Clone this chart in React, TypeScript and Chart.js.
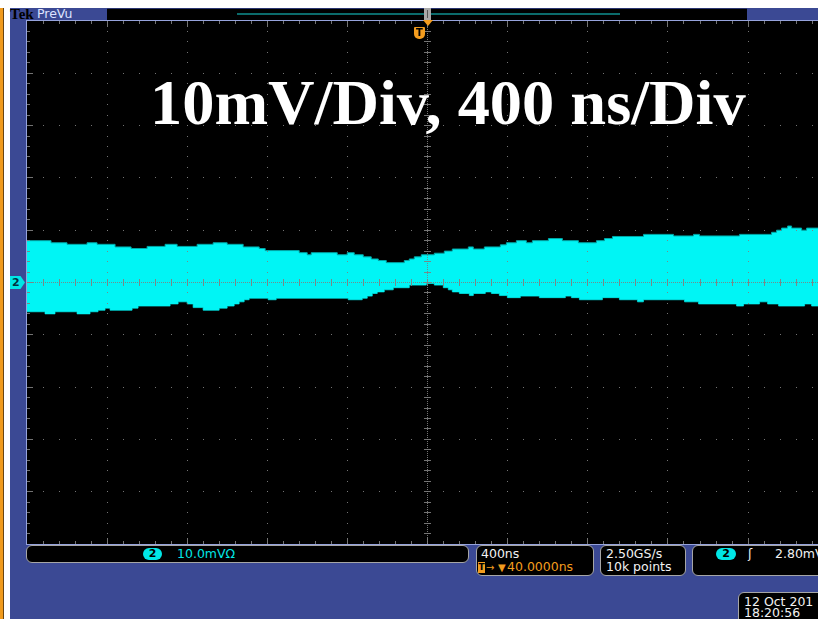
import React, { useEffect, useRef } from 'react';
import { Chart, registerables } from 'chart.js';

Chart.register(...registerables);

// ---- Data (time in ns relative to trigger, voltage in mV) ----
const UPPER_T = [-2000, -1880, -1800, -1700, -1650, -1560, -1480, -1400, -1310, -1250, -1150, -1070, -1000, -920, -840, -810, -640, -600, -580, -450, -400, -365, -320, -280, -245, -205, -115, -90, -65, -30, 35, 85, 125, 205, 230, 285, 365, 395, 445, 495, 525, 605, 675, 755, 845, 885, 925, 1080, 1230, 1330, 1360, 1560, 1720, 1745, 1770, 1800, 1820, 1870, 1895, 1960];
const UPPER_MV = [8.0, 7.6, 7.3, 7.6, 7.3, 6.8, 6.5, 6.9, 7.3, 6.9, 7.3, 7.6, 7.3, 6.8, 6.5, 6.1, 5.7, 5.3, 5.7, 5.3, 5.7, 5.3, 4.9, 4.5, 4.2, 3.8, 4.2, 4.5, 4.9, 5.3, 5.6, 6.0, 6.4, 6.8, 6.4, 6.8, 7.2, 7.6, 8.0, 7.6, 8.0, 8.4, 8.0, 7.6, 8.0, 8.4, 8.8, 9.2, 8.9, 9.2, 8.9, 9.2, 9.6, 10.0, 10.4, 10.8, 10.4, 10.0, 10.4, 10.4];
const LOWER_T = [-2000, -1910, -1860, -1750, -1685, -1645, -1610, -1585, -1475, -1445, -1285, -1245, -1200, -1170, -1120, -1040, -1000, -965, -940, -915, -890, -795, -755, -395, -325, -300, -275, -250, -215, -170, -90, -5, 35, 80, 105, 125, 160, 210, 230, 290, 320, 360, 400, 465, 560, 690, 720, 760, 875, 960, 1050, 1080, 1285, 1355, 1545, 1580, 1660, 1700, 1755, 1885, 1920, 1960];
const LOWER_MV = [-5.6, -6.0, -5.6, -6.0, -5.6, -5.3, -4.9, -5.3, -4.9, -4.5, -4.1, -3.7, -4.1, -4.8, -5.3, -4.9, -4.5, -4.1, -3.7, -3.3, -3.0, -3.3, -3.0, -3.3, -3.0, -2.6, -2.1, -1.8, -1.4, -1.0, -0.5, -0.2, -0.5, -1.0, -1.4, -1.8, -2.1, -2.5, -2.1, -1.8, -2.1, -2.5, -2.9, -2.6, -2.9, -2.6, -2.9, -3.3, -2.9, -3.3, -3.7, -3.3, -3.7, -4.1, -4.5, -4.1, -3.7, -4.1, -4.5, -4.1, -4.5, -4.5];

const X_MIN_NS = -2000;
const X_MAX_NS = 1952;
const NS_PER_DIV = 400;
const Y_MIN_MV = -50;
const Y_MAX_MV = 50;
const MV_PER_DIV = 10;
const TITLE = '10mV/Div, 400 ns/Div';

const CYAN = '#00f5f5';
const UI_CYAN = '#00e6e6';
const ORANGE = '#f39c1e';
const WHITE = '#f2f2f2';
const BLUE = '#3b4994';
const UI_FONT = '"DejaVu Sans", sans-serif';

const scopeGrid = {
  id: 'scopeGrid',
  afterDatasetsDraw(chart: any) {
    const { ctx, chartArea: a, scales } = chart;
    const xs = scales.x;
    const ys = scales.y;
    const minorX = NS_PER_DIV / 5;
    const minorY = MV_PER_DIV / 5;
    const px = (t: number) => Math.round(xs.getPixelForValue(t));
    const py = (v: number) => Math.floor(ys.getPixelForValue(v));
    ctx.save();
    ctx.fillStyle = 'rgba(128,128,128,0.9)';
    // dotted vertical division lines
    for (let t = X_MIN_NS + NS_PER_DIV; t < X_MAX_NS; t += NS_PER_DIV) {
      if (t === 0) continue;
      const x = px(t);
      for (let v = Y_MIN_MV + minorY; v < Y_MAX_MV; v += minorY) ctx.fillRect(x, py(v), 1, 1);
    }
    // dotted horizontal division lines
    for (let v = Y_MIN_MV + MV_PER_DIV; v < Y_MAX_MV; v += MV_PER_DIV) {
      if (v === 0) continue;
      const y = py(v);
      for (let t = X_MIN_NS + minorX; t < X_MAX_NS; t += minorX) ctx.fillRect(px(t), y, 1, 1);
    }
    // center cross
    const y0 = py(0);
    const x0 = px(0);
    for (let x = a.left; x < a.right; x += 2) ctx.fillRect(x, y0, 1, 1);
    for (let y = a.top; y < a.bottom; y += 2) ctx.fillRect(x0, y, 1, 1);
    for (let t = X_MIN_NS + minorX; t < X_MAX_NS; t += minorX) {
      const x = px(t);
      ctx.fillRect(x, y0 - 3, 1, 7);
      const major = t % NS_PER_DIV === 0;
      const len = major ? 6 : 3;
      ctx.fillRect(x, a.top, 1, len);
      ctx.fillRect(x, a.bottom - len, 1, len);
    }
    for (let v = Y_MIN_MV + minorY; v < Y_MAX_MV; v += minorY) {
      const y = py(v);
      ctx.fillRect(x0 - 3, y, 7, 1);
      const major = v % MV_PER_DIV === 0;
      ctx.fillRect(a.left, y, major ? 6 : 3, 1);
    }
    ctx.restore();
  },
  afterDraw(chart: any) {
    const { ctx } = chart;
    ctx.save();
    ctx.fillStyle = '#ffffff';
    ctx.font = 'bold 64.4px "Liberation Serif", "Times New Roman", serif';
    ctx.textBaseline = 'alphabetic';
    ctx.textAlign = 'left';
    ctx.fillText(TITLE, 123, 103);
    ctx.restore();
  },
};

const abs = (l: number, t: number, w: number, h: number, extra: any = {}) => ({
  position: 'absolute' as const,
  left: l,
  top: t,
  width: w,
  height: h,
  boxSizing: 'border-box' as const,
  ...extra,
});

const Txt = ({ l, b, s, color = WHITE, size = 12.5, family = UI_FONT, weight = 'normal' }: any) => (
  <div
    style={{
      position: 'absolute',
      left: l,
      top: b - 0.846 * size,
      fontFamily: family,
      fontSize: size,
      lineHeight: `${size}px`,
      color,
      fontWeight: weight,
      whiteSpace: 'nowrap',
    }}
  >
    {s}
  </div>
);

const Pill = ({ l, t, w }: any) => (
  <div
    style={abs(l, t, w, 12, {
      background: UI_CYAN,
      borderRadius: 6,
      color: '#000',
      fontFamily: UI_FONT,
      fontWeight: 'bold',
      fontSize: 11,
      lineHeight: '12px',
      textAlign: 'center',
    })}
  >
    2
  </div>
);

const box = (l: number, t: number, w: number, h: number) =>
  abs(l, t, w, h, { border: '1px solid #a6a6a6', borderRadius: 6, background: '#000' });

export default function App() {
  const ref = useRef<HTMLCanvasElement | null>(null);

  useEffect(() => {
    if (!ref.current) return;
    const upper = UPPER_T.map((t, i) => ({ x: t, y: UPPER_MV[i] }));
    const lower = LOWER_T.map((t, i) => ({ x: t, y: LOWER_MV[i] }));
    const chart = new Chart(ref.current, {
      type: 'line',
      data: {
        datasets: [
          {
            data: upper,
            stepped: true,
            borderColor: '#00a8a8',
            borderWidth: 1,
            backgroundColor: CYAN,
            fill: '+1',
            pointRadius: 0,
          },
          {
            data: lower,
            stepped: true,
            borderColor: '#00a8a8',
            borderWidth: 1,
            backgroundColor: CYAN,
            fill: false,
            pointRadius: 0,
          },
        ],
      },
      options: {
        animation: false,
        responsive: false,
        maintainAspectRatio: false,
        layout: { padding: 0 },
        scales: {
          x: { type: 'linear', min: X_MIN_NS, max: X_MAX_NS, display: false },
          y: { type: 'linear', min: Y_MIN_MV, max: Y_MAX_MV, display: false },
        },
        plugins: { legend: { display: false }, tooltip: { enabled: false }, title: { display: false } },
      } as any,
      plugins: [scopeGrid],
    });
    return () => chart.destroy();
  }, []);

  return (
    <div style={{ position: 'fixed', left: 0, top: 0, width: 818, height: 619, overflow: 'hidden', background: BLUE }}>
      {/* white top + left frame */}
      <div style={abs(0, 0, 818, 8, { background: '#fff' })} />
      <div style={abs(0, 8, 3, 611, { background: '#f09a1c' })} />
      <div style={abs(3, 8, 1, 611, { background: '#6a4410' })} />
      <div style={abs(4, 8, 6, 611, { background: '#fff' })} />

      {/* top status bar */}
      <Txt l={10} b={19.5} s="Tek" color="#000" size={15} family='"Liberation Serif", serif' weight="bold" />
      <Txt l={37} b={18.3} s="PreVu" color="#dde3ff" size={12.5} />
      <div style={abs(107, 8, 640, 13, { background: '#000', borderTop: '1px solid #2a3570' })} />
      <div style={abs(237, 13, 383, 2, { background: '#0b6b6b' })} />

      {/* plot frame + canvas */}
      <div style={abs(26, 20, 792, 525, { background: '#96a3dc' })} />
      <canvas
        ref={ref}
        width={791}
        height={523}
        style={{ position: 'absolute', left: 27, top: 21, width: 791, height: 523, background: '#000' }}
      />

      {/* trigger position markers */}
      <div style={abs(424, 8, 7, 12, { background: '#a8a8a8' })} />
      <div style={abs(427, 10, 1, 8, { background: '#555' })} />
      <div
        style={{
          position: 'absolute',
          left: 423,
          top: 20,
          width: 0,
          height: 0,
          borderLeft: '5px solid transparent',
          borderRight: '5px solid transparent',
          borderTop: `6px solid ${ORANGE}`,
        }}
      />
      <div
        style={abs(414, 27, 11, 12, {
          background: ORANGE,
          borderRadius: '1px 1px 5px 5px',
          color: '#000',
          fontFamily: UI_FONT,
          fontWeight: 'bold',
          fontSize: 10,
          lineHeight: '12px',
          textAlign: 'center',
        })}
      >
        T
      </div>

      {/* channel marker */}
      <div
        style={abs(10, 276, 15, 13, {
          background: UI_CYAN,
          clipPath: 'polygon(0 0, 70% 0, 100% 50%, 70% 100%, 0 100%)',
          color: '#003040',
          fontFamily: UI_FONT,
          fontWeight: 'bold',
          fontSize: 11,
          lineHeight: '13px',
          paddingLeft: 2,
        })}
      >
        2
      </div>

      {/* bottom readouts */}
      <div style={box(26, 545, 443, 18)} />
      <Pill l={143} t={548} w={19} />
      <Txt l={177} b={558.5} s="10.0mVΩ" color={UI_CYAN} />

      <div style={box(476, 545, 118, 31)} />
      <Txt l={481} b={558.5} s="400ns" />
      <div
        style={abs(478, 562, 7, 11, {
          background: ORANGE,
          color: '#000',
          fontFamily: UI_FONT,
          fontWeight: 'bold',
          fontSize: 9,
          lineHeight: '11px',
          textAlign: 'center',
        })}
      >
        T
      </div>
      <Txt l={486} b={571.5} s="→" color={ORANGE} size={10} />
      <Txt l={498} b={571.5} s="▼" color={ORANGE} size={10} />
      <Txt l={507} b={571.5} s="40.0000ns" color={ORANGE} />

      <div style={box(600, 545, 86, 31)} />
      <Txt l={606} b={558.5} s="2.50GS/s" />
      <Txt l={606} b={572} s="10k points" />

      <div style={box(692, 545, 140, 31)} />
      <Pill l={716} t={548} w={20} />
      <Txt l={748} b={559} s="ʃ" />
      <Txt l={775} b={558.5} s="2.80mV" />

      <div style={box(738, 592, 100, 40)} />
      <Txt l={744} b={606.5} s="12 Oct 201" />
      <Txt l={744} b={618} s="18:20:56" />
    </div>
  );
}
